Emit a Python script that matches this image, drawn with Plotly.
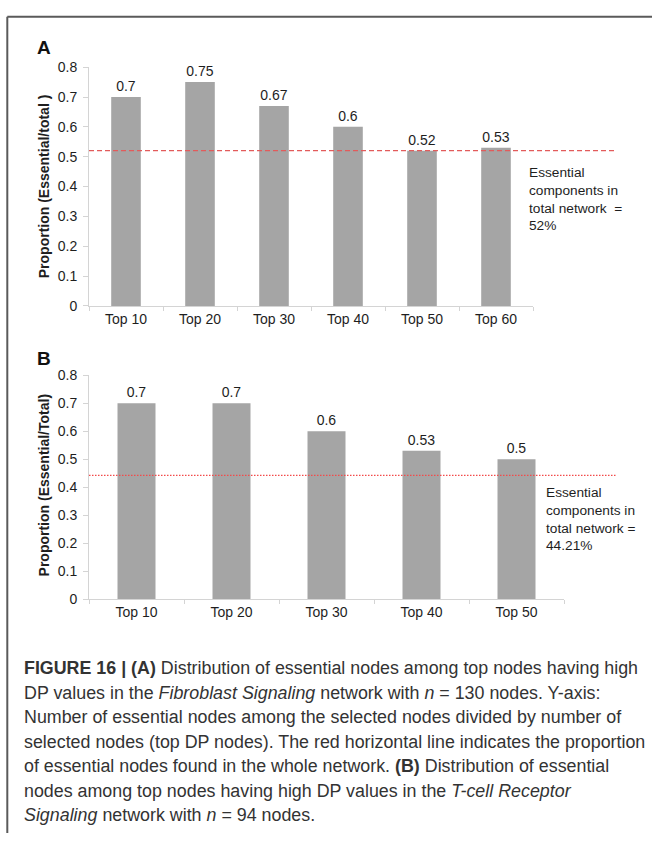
import plotly.graph_objects as go

# ---- data -------------------------------------------------------------
cats_a = ["Top 10", "Top 20", "Top 30", "Top 40", "Top 50", "Top 60"]
vals_a = [0.7, 0.75, 0.67, 0.6, 0.52, 0.53]
baseline_a = 0.52

cats_b = ["Top 10", "Top 20", "Top 30", "Top 40", "Top 50"]
vals_b = [0.7, 0.7, 0.6, 0.53, 0.5]
baseline_b = 0.4421

y_ticks = [0, 0.1, 0.2, 0.3, 0.4, 0.5, 0.6, 0.7, 0.8]
y_ticktext = ["0", "0.1", "0.2", "0.3", "0.4", "0.5", "0.6", "0.7", "0.8"]

note_a = "Essential<br>components in<br>total network  =<br>52%"
note_b = "Essential<br>components in<br>total network =<br>44.21%"
ytitle_a = "Proportion (Essential/total )"
ytitle_b = "Proportion (Essential/Total)"

caption_lines = [
    "<b>FIGURE 16 | (A)</b> Distribution of essential nodes among top nodes having high",
    "DP values in the <i>Fibroblast Signaling</i> network with <i>n</i> = 130 nodes. Y-axis:",
    "Number of essential nodes among the selected nodes divided by number of",
    "selected nodes (top DP nodes). The red horizontal line indicates the proportion",
    "of essential nodes found in the whole network. <b>(B)</b> Distribution of essential",
    "nodes among top nodes having high DP values in the <i>T-cell Receptor</i>",
    "<i>Signaling</i> network with <i>n</i> = 94 nodes.",
]

# ---- page geometry helpers (pixels -> paper fraction) -------------------
W, H = 652, 841


def fx(px):
    return px / W


def fy(py):
    return 1 - py / H


FONT = "Liberation Sans, Arial, sans-serif"
BAR = "#a5a5a5"
AXIS = "#d4d4d4"
TXT = "#1e1e1e"

fig = go.Figure()

fig.add_trace(go.Bar(
    x=cats_a, y=vals_a, xaxis="x", yaxis="y",
    marker=dict(color=BAR, line=dict(width=0)),
    text=[f"{v:g}" for v in vals_a], textposition="outside",
    textfont=dict(family=FONT, size=14, color=TXT),
    constraintext="none", cliponaxis=False, hoverinfo="skip",
))
fig.add_trace(go.Bar(
    x=cats_b, y=vals_b, xaxis="x2", yaxis="y2",
    marker=dict(color=BAR, line=dict(width=0)),
    text=[f"{v:g}" for v in vals_b], textposition="outside",
    textfont=dict(family=FONT, size=14, color=TXT),
    constraintext="none", cliponaxis=False, hoverinfo="skip",
))

xaxis_common = dict(
    type="category", showline=True, linecolor=AXIS, linewidth=1,
    ticks="outside", tickson="boundaries", ticklen=4, tickcolor=AXIS,
    tickfont=dict(family=FONT, size=14, color=TXT),
    showgrid=False, zeroline=False, fixedrange=True,
)
yaxis_common = dict(
    range=[0, 0.8], tickvals=y_ticks, ticktext=y_ticktext,
    showline=True, linecolor=AXIS, linewidth=1,
    ticks="outside", ticklen=5, tickcolor=AXIS, ticklabelstandoff=3,
    tickfont=dict(family=FONT, size=14, color=TXT),
    showgrid=False, zeroline=False, fixedrange=True,
)

fig.update_layout(
    width=W, height=H,
    margin=dict(l=0, r=0, t=0, b=0),
    paper_bgcolor="white", plot_bgcolor="white",
    showlegend=False, bargap=0.6,
    font=dict(family=FONT, color=TXT),
    xaxis=dict(domain=[fx(89), fx(533)], anchor="y", **xaxis_common),
    yaxis=dict(domain=[fy(303.7), fy(60.3)], anchor="x", **yaxis_common),
    xaxis2=dict(domain=[fx(89), fx(564)], anchor="y2", **xaxis_common),
    yaxis2=dict(domain=[fy(602.7), fy(374.3)], anchor="x2", **yaxis_common),
)

shapes = [
    # reference proportion lines
    dict(type="line", xref="paper", yref="y", x0=fx(89), x1=fx(617),
         y0=baseline_a, y1=baseline_a,
         line=dict(color="#e25b5b", width=1.2, dash="5px,3px")),
    dict(type="line", xref="paper", yref="y2", x0=fx(89), x1=fx(617),
         y0=baseline_b, y1=baseline_b,
         line=dict(color="#f24b4b", width=1.2, dash="1.5px,1.5px")),
    # figure frame
    dict(type="line", xref="paper", yref="paper", x0=fx(7.3), x1=1,
         y0=fy(9), y1=fy(9), line=dict(color="#5a5a5a", width=2)),
    dict(type="line", xref="paper", yref="paper", x0=fx(7.3), x1=fx(7.3),
         y0=fy(9), y1=0, line=dict(color="#5a5a5a", width=2)),
]
fig.update_layout(shapes=shapes)

ann = []
# panel letters
ann.append(dict(text="<b>A</b>", x=fx(34.5), y=fy(40), xref="paper", yref="paper",
                xanchor="left", yanchor="middle", showarrow=False,
                font=dict(family=FONT, size=19, color="#111")))
ann.append(dict(text="<b>B</b>", x=fx(34.5), y=fy(357.5), xref="paper", yref="paper",
                xanchor="left", yanchor="middle", showarrow=False,
                font=dict(family=FONT, size=19, color="#111")))
# y-axis titles
ann.append(dict(text=f"<b>{ytitle_a}</b>", x=fx(43.7), y=fy(182), xref="paper", yref="paper",
                xanchor="center", yanchor="middle", textangle=-90, showarrow=False,
                font=dict(family=FONT, size=14, color=TXT)))
ann.append(dict(text=f"<b>{ytitle_b}</b>", x=fx(43.7), y=fy(486), xref="paper", yref="paper",
                xanchor="center", yanchor="middle", textangle=-90, showarrow=False,
                font=dict(family=FONT, size=14, color=TXT)))
# reference line notes
ann.append(dict(text=note_a, x=fx(527), y=fy(157.5), xref="paper", yref="paper",
                xanchor="left", yanchor="top", align="left", showarrow=False,
                font=dict(family=FONT, size=13.7, color=TXT)))
ann.append(dict(text=note_b, x=fx(543.5), y=fy(484), xref="paper", yref="paper",
                xanchor="left", yanchor="top", align="left", showarrow=False,
                font=dict(family=FONT, size=13.7, color=TXT)))
# caption
for i, line in enumerate(caption_lines):
    ann.append(dict(text=line, x=fx(21.5), y=fy(673 + 25 * i), xref="paper", yref="paper",
                    xanchor="left", yanchor="middle", align="left", showarrow=False,
                    font=dict(family=FONT, size=17.85, color="#333333")))
fig.update_layout(annotations=ann)

fig.write_html(
    "out.html",
    post_script="document.body.style.margin='0';document.body.style.overflow='hidden';",
)
